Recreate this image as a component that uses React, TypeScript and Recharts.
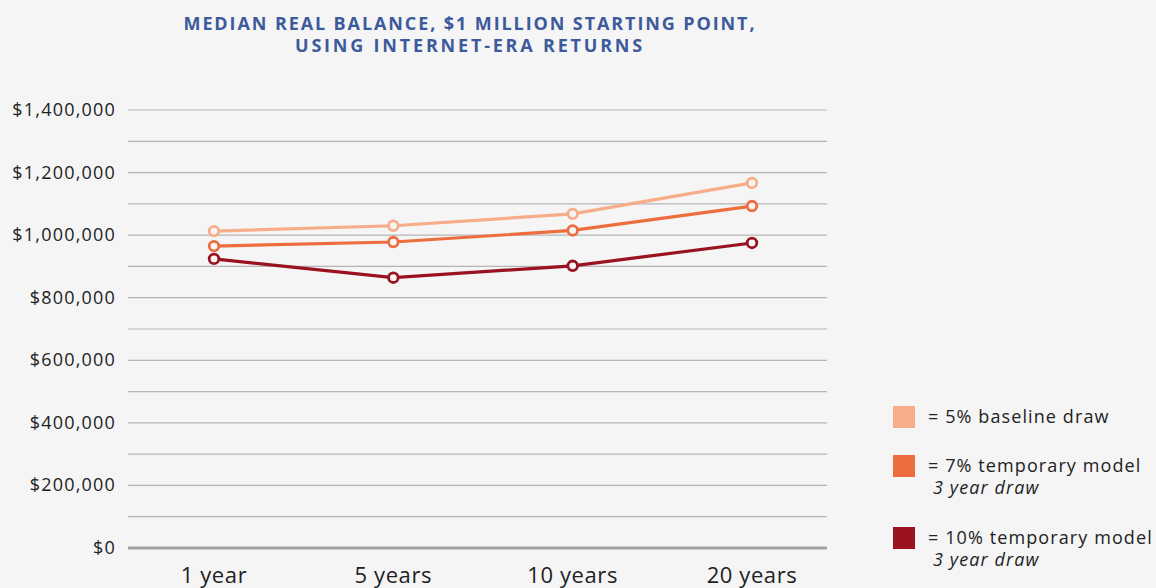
import React from "react";
import { LineChart, Line, XAxis, YAxis, CartesianGrid } from "recharts";

const categories = ["1 year", "5 years", "10 years", "20 years"];
const baseline5 = [1013000, 1030000, 1068000, 1167000];
const temp7 = [965000, 978000, 1015000, 1093000];
const temp10 = [924000, 864000, 902000, 975000];
const yTicks = [0, 100000, 200000, 300000, 400000, 500000, 600000, 700000, 800000, 900000, 1000000, 1100000, 1200000, 1300000, 1400000];

const seriesNames = ["5% baseline draw", "7% temporary model", "10% temporary model"];
const colors = ["#f7ad89", "#ee6d3f", "#9a1220"];

const data = categories.map((c, i) => ({
  name: c,
  b5: baseline5[i],
  t7: temp7[i],
  t10: temp10[i],
}));

const FONT = "'Open Sans', sans-serif";
const BG = "#f5f5f5";

const fmt = (v: number) => "$" + v.toLocaleString("en-US");

const YTick = (props: any) => {
  const { x, y, payload } = props;
  if (payload.value % 200000 !== 0) return <g />;
  return (
    <text x={x} y={y} dy={6} textAnchor="end" fill="#222" fontSize={18} letterSpacing={1.2} fontFamily={FONT}>
      {fmt(payload.value)}
    </text>
  );
};

const XTick = (props: any) => {
  const { x, y, payload } = props;
  return (
    <text x={x} y={y} dy={33} textAnchor="middle" fill="#222" fontSize={22} letterSpacing={0.6} fontFamily={FONT}>
      {payload.value}
    </text>
  );
};

const dot = (color: string) => ({ r: 4.8, fill: BG, stroke: color, strokeWidth: 2.8 });

export default function App() {
  return (
    <div style={{ position: "absolute", left: 0, top: 0, width: 1156, height: 588, background: BG, overflow: "hidden" }}>
      <div
        style={{
          position: "absolute",
          left: 120,
          width: 700,
          top: 12,
          textAlign: "center",
          color: "#3c5a9c",
          fontFamily: FONT,
          fontWeight: 700,
          fontSize: 18,
          letterSpacing: 1.9,
          lineHeight: "22px",
        }}
      >
        MEDIAN REAL BALANCE, $1 MILLION STARTING POINT,
        <br />
        <span style={{ letterSpacing: 2.8 }}>USING INTERNET-ERA RETURNS</span>
      </div>
      <LineChart width={1156} height={588} data={data} margin={{ top: 110, right: 329, bottom: 0, left: 0 }}>
        <CartesianGrid horizontal={true} vertical={false} stroke="#b5b5b5" strokeWidth={1.2} />
        <XAxis
          dataKey="name"
          padding={{ left: 86, right: 75 }}
          axisLine={{ stroke: "#a3a3a3", strokeWidth: 3 }}
          tickLine={false}
          tickSize={0}
          tick={<XTick />}
          height={40}
          interval={0}
        />
        <YAxis
          width={128}
          domain={[0, 1400000]}
          ticks={yTicks}
          interval={0}
          axisLine={false}
          tickLine={false}
          tickSize={0}
          tickMargin={12}
          tick={<YTick />}
        />
        <Line dataKey="b5" name={seriesNames[0]} stroke={colors[0]} strokeWidth={3.2} dot={dot(colors[0])} isAnimationActive={false} />
        <Line dataKey="t7" name={seriesNames[1]} stroke={colors[1]} strokeWidth={3.2} dot={dot(colors[1])} isAnimationActive={false} />
        <Line dataKey="t10" name={seriesNames[2]} stroke={colors[2]} strokeWidth={3.2} dot={dot(colors[2])} isAnimationActive={false} />
      </LineChart>
      {[
        { top: 406, name: seriesNames[0], sub: "" },
        { top: 455, name: seriesNames[1], sub: "3 year draw" },
        { top: 527, name: seriesNames[2], sub: "3 year draw" },
      ].map((it, i) => (
        <div key={i} style={{ position: "absolute", left: 893, top: it.top, fontFamily: FONT, color: "#222" }}>
          <div style={{ position: "absolute", left: 0, top: 0, width: 22, height: 22, background: colors[i] }} />
          <div style={{ position: "absolute", left: 35, top: -1, fontSize: 18, letterSpacing: 1.1, whiteSpace: "nowrap", lineHeight: "22px" }}>
            = {it.name}
          </div>
          {it.sub && (
            <div style={{ position: "absolute", left: 40, top: 21, fontSize: 18, letterSpacing: 1.1, fontStyle: "italic", whiteSpace: "nowrap", lineHeight: "22px" }}>
              {it.sub}
            </div>
          )}
        </div>
      ))}
    </div>
  );
}
